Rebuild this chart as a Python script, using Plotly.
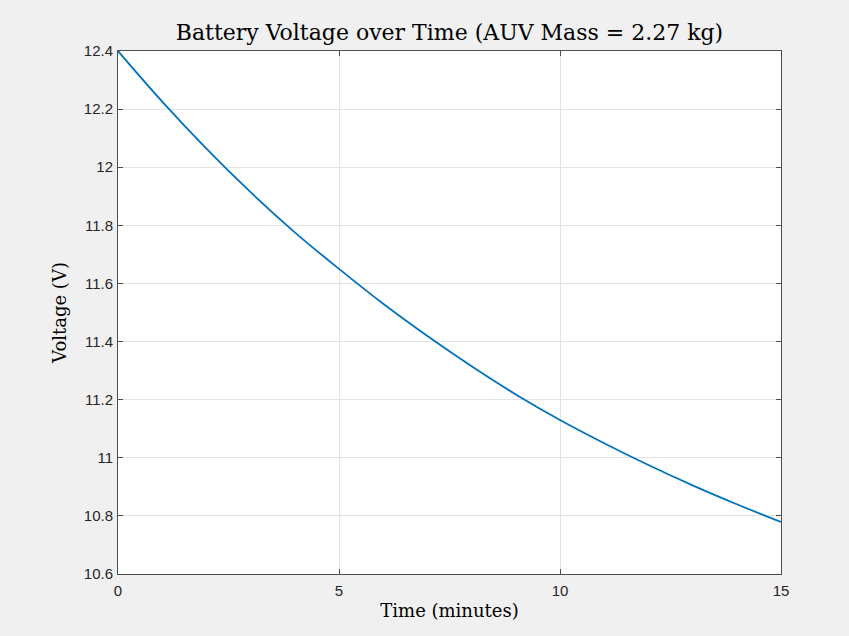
import plotly.graph_objects as go

# Battery discharge samples, one per minute
time_min = [0, 1, 2, 3, 4, 5, 6, 7, 8, 9, 10, 11, 12, 13, 14, 15]
voltage_v = [12.400, 12.226, 12.064, 11.914, 11.776, 11.650, 11.530,
             11.419, 11.315, 11.218, 11.130, 11.050, 10.975, 10.905,
             10.840, 10.779]

x_ticks = [0, 5, 10, 15]
y_ticks = [10.6, 10.8, 11.0, 11.2, 11.4, 11.6, 11.8, 12.0, 12.2, 12.4]
y_tick_text = ["10.6", "10.8", "11", "11.2", "11.4", "11.6", "11.8", "12", "12.2", "12.4"]

SERIF = "DejaVu Serif, Liberation Serif, serif"
SANS = "Liberation Sans, Arial, sans-serif"

fig = go.Figure()
fig.add_trace(go.Scatter(
    x=time_min, y=voltage_v, mode="lines",
    line=dict(color="#0072BD", width=1.8, shape="spline", smoothing=1.0),
    showlegend=False, hoverinfo="x+y",
))

axis_common = dict(
    showline=True, linecolor="#4d4d4d", linewidth=1, mirror="ticks",
    ticks="inside", ticklen=5, tickcolor="#4d4d4d",
    showgrid=True, gridcolor="#e3e3e3", gridwidth=1,
    zeroline=False,
    tickfont=dict(family=SANS, size=15, color="#262626"),
)

fig.update_layout(
    width=849, height=636,
    paper_bgcolor="#f0f0f0", plot_bgcolor="#ffffff",
    margin=dict(l=118, r=68, t=51, b=62),
    title=dict(
        text="Battery Voltage over Time (AUV Mass = 2.27 kg)",
        font=dict(family=SERIF, size=22, color="#000000"),
        xref="paper", x=0.5, xanchor="center",
        yref="container", y=1 - 32 / 636, yanchor="middle",
    ),
    xaxis=dict(
        range=[0, 15], tickvals=x_ticks, ticktext=[str(v) for v in x_ticks],
        ticklabelstandoff=3,
        title=dict(text="Time (minutes)", standoff=6,
                   font=dict(family=SERIF, size=18, color="#000000")),
        **axis_common,
    ),
    yaxis=dict(
        range=[10.6, 12.4], tickvals=y_ticks, ticktext=y_tick_text,
        ticklabelstandoff=1,
        title=dict(text="Voltage (V)", standoff=12,
                   font=dict(family=SERIF, size=18, color="#000000")),
        **axis_common,
    ),
)

fig.write_html("out.html")
